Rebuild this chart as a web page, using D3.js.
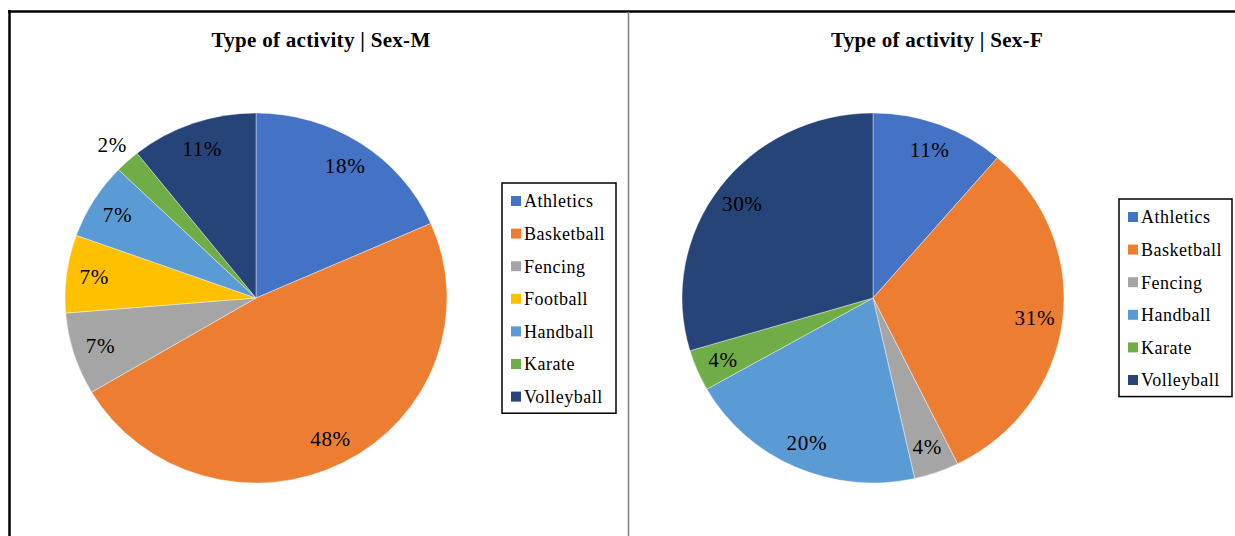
<!DOCTYPE html>
<html>
<head>
<meta charset="utf-8">
<script src="https://cdn.jsdelivr.net/npm/d3@7"></script>
<style>
  body { margin: 0; background: #fff; }
  svg { display: block; font-family: "Liberation Serif", "Times New Roman", serif; }
</style>
</head>
<body>
<svg id="chart" width="1235" height="536"></svg>
<script>
// data (percent shares)
var categoriesM = ["Athletics", "Basketball", "Fencing", "Football", "Handball", "Karate", "Volleyball"];
var valuesM = [18.4, 48.1, 7.2, 6.8, 6.7, 2.1, 10.7];

var categoriesF = ["Athletics", "Basketball", "Fencing", "Handball", "Karate", "Volleyball"];
var valuesF = [11.3, 31.4, 3.8, 20.3, 3.6, 29.6];

var titles = ["Type of activity | Sex-M", "Type of activity | Sex-F"];

var colorDomain = ["Athletics", "Basketball", "Fencing", "Football", "Handball", "Karate", "Volleyball"];
var colorRange = ["#4472c4", "#ed7d31", "#a5a5a5", "#ffc000", "#5b9bd5", "#70ad47", "#264478"];

(function () {
    var svg = d3.select("#chart");
    var color = d3.scaleOrdinal().domain(colorDomain).range(colorRange);

    // frame: black outer border, grey divider between the two charts
    svg.append("line").attr("x1", 8).attr("x2", 1235).attr("y1", 11.5).attr("y2", 11.5)
        .attr("stroke", "#000").attr("stroke-width", 2.5);
    svg.append("line").attr("x1", 9.5).attr("x2", 9.5).attr("y1", 10).attr("y2", 536)
        .attr("stroke", "#000").attr("stroke-width", 2.5);
    svg.append("line").attr("x1", 628.5).attr("x2", 628.5).attr("y1", 12).attr("y2", 536)
        .attr("stroke", "#7f7f7f").attr("stroke-width", 1.5);

    var r = 185;
    var stretch = 1.0324; // the picture is a bit wider than tall

    var pie = d3.pie().sort(null).value(function (d) { return d.value; });
    var arc = d3.arc().innerRadius(0).outerRadius(r);
    var labelArc = d3.arc().innerRadius(158).outerRadius(158);
    var outsideArc = d3.arc().innerRadius(207).outerRadius(207);

    var charts = [
        { cats: categoriesM, vals: valuesM, title: titles[0], cx: 256, cy: 298, tx: 321, lx: 502, ly: 183, lw: 114 },
        { cats: categoriesF, vals: valuesF, title: titles[1], cx: 873, cy: 298, tx: 937, lx: 1119, ly: 199, lw: 113 }
    ];

    charts.forEach(function (c) {
        var data = c.cats.map(function (k, i) { return { key: k, value: c.vals[i] }; });

        svg.append("text")
            .attr("x", c.tx).attr("y", 47)
            .attr("text-anchor", "middle")
            .attr("font-weight", "bold")
            .attr("font-size", 21)
            .attr("letter-spacing", 0.3)
            .attr("fill", "#000")
            .text(c.title);

        var g = svg.append("g")
            .attr("transform", "translate(" + c.cx + "," + c.cy + ") scale(" + stretch + ",1)");

        g.selectAll("path")
            .data(pie(data))
            .join("path")
            .attr("d", arc)
            .attr("fill", function (d) { return color(d.data.key); })
            .attr("stroke", "#fff")
            .attr("stroke-width", 0.4);

        g.selectAll("text")
            .data(pie(data))
            .join("text")
            .attr("transform", function (d) {
                var p = d.data.value < 3 ? outsideArc.centroid(d) : labelArc.centroid(d);
                return "translate(" + p + ")";
            })
            .attr("text-anchor", "middle")
            .attr("dy", "0.35em")
            .attr("font-size", 20.5)
            .attr("letter-spacing", 0.6)
            .attr("fill", "#000")
            .text(function (d) { return Math.round(d.data.value) + "%"; });

        // legend
        var step = 32.6;
        var lh = step * c.cats.length + 2;
        var leg = svg.append("g").attr("transform", "translate(" + c.lx + "," + c.ly + ")");
        leg.append("rect")
            .attr("width", c.lw).attr("height", lh)
            .attr("fill", "#fff").attr("stroke", "#000").attr("stroke-width", 1.5);

        var item = leg.selectAll("g.item")
            .data(c.cats)
            .join("g")
            .attr("class", "item")
            .attr("transform", function (d, i) { return "translate(0," + (18 + i * step) + ")"; });
        item.append("rect")
            .attr("x", 9).attr("y", -5).attr("width", 10).attr("height", 10)
            .attr("fill", function (d) { return color(d); });
        item.append("text")
            .attr("x", 22).attr("dy", "0.35em")
            .attr("font-size", 18)
            .attr("letter-spacing", 0.5)
            .attr("fill", "#000")
            .text(function (d) { return d; });
    });
})();
</script>
</body>
</html>
